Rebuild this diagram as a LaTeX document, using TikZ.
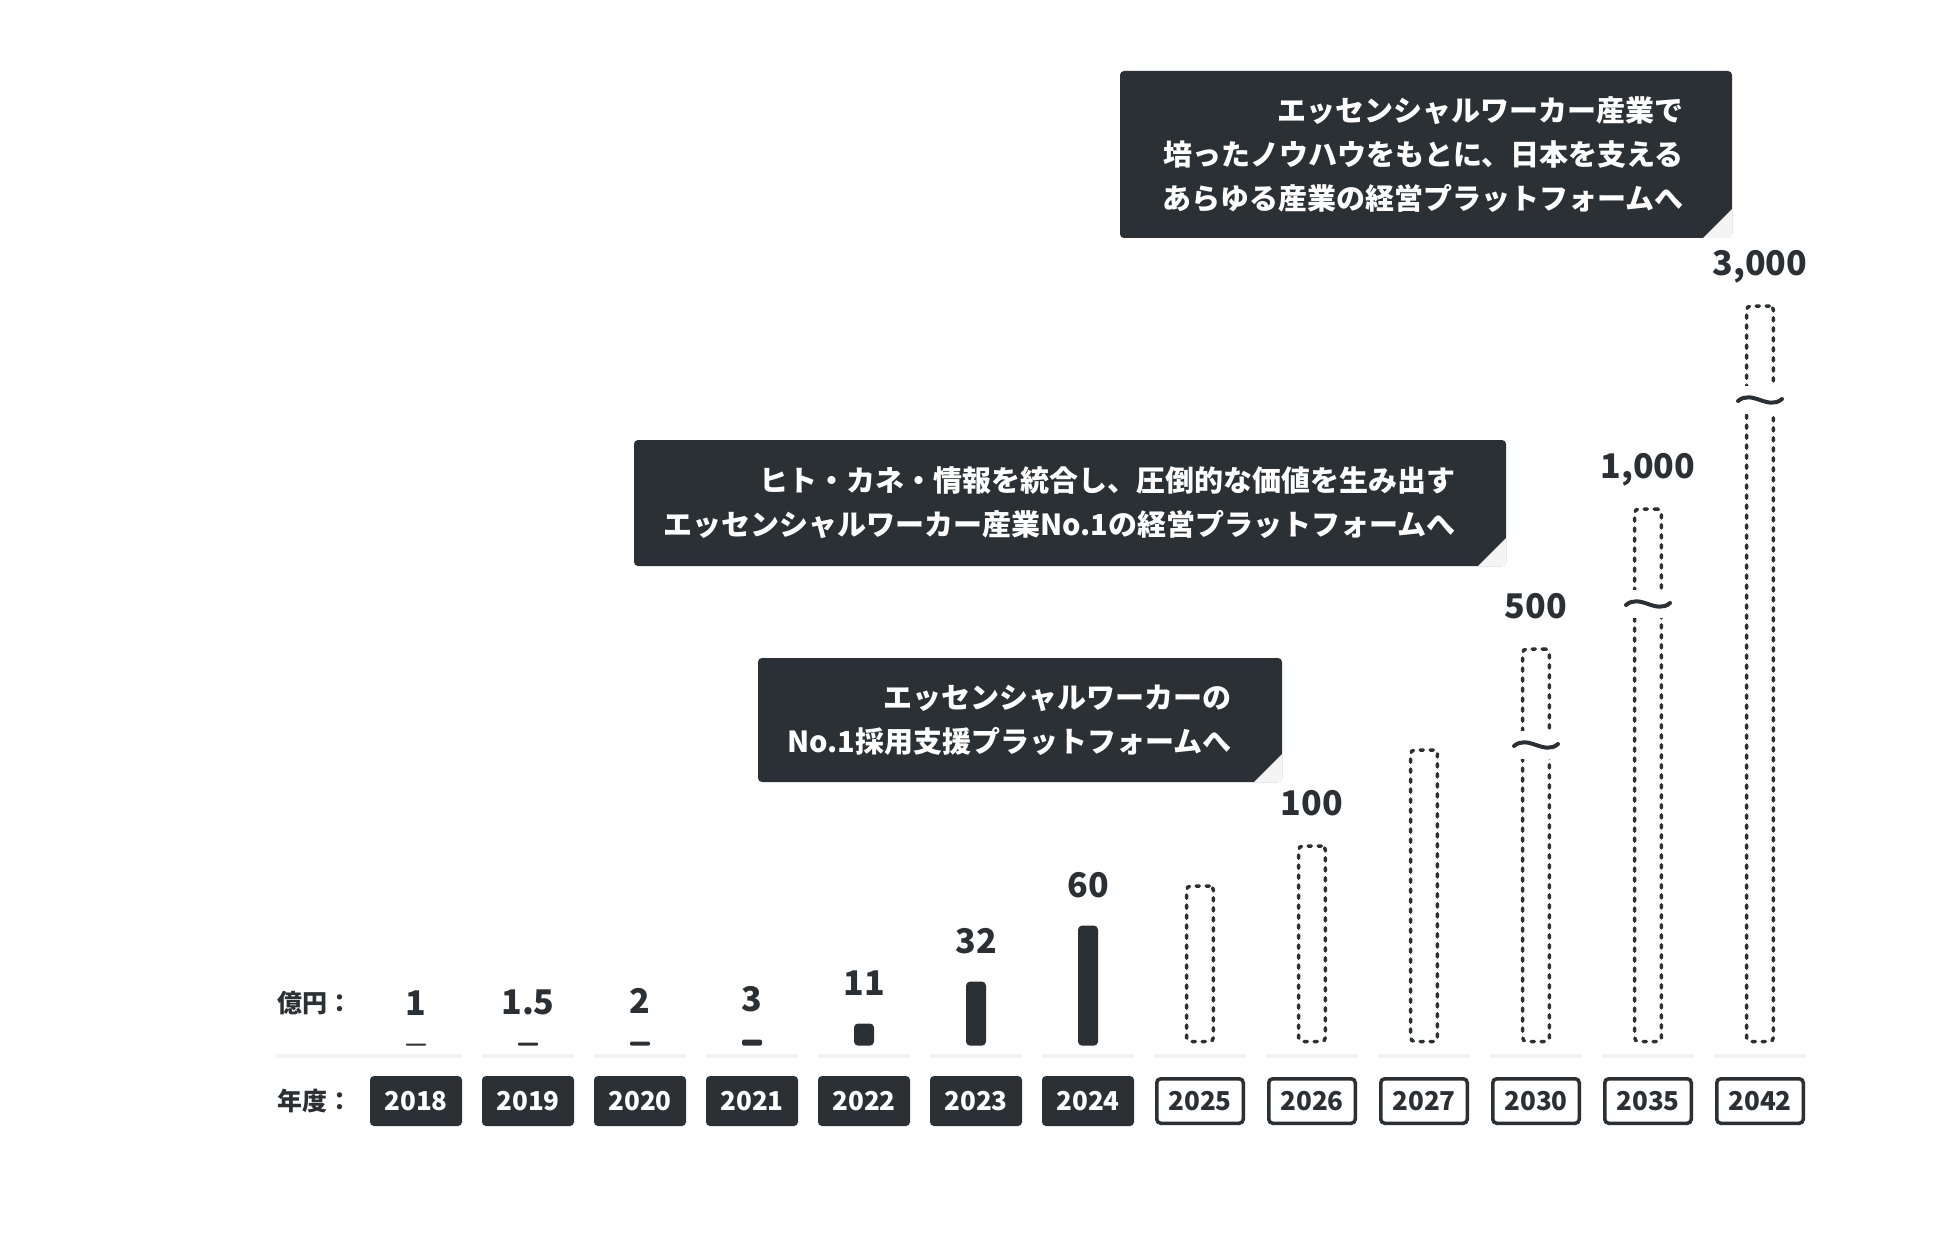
\documentclass[tikz,border=0pt]{standalone}
\usepackage{fontspec}
\setmainfont{Noto Sans CJK JP}
\usetikzlibrary{positioning,calc}

\definecolor{ink}{HTML}{2A3033}
\definecolor{fold}{HTML}{F4F4F4}
\definecolor{strip}{HTML}{F2F2F2}

\tikzset{
  yearbox/.style = {fill=ink, text=white, rounded corners=2pt, inner sep=0pt,
    minimum width=46pt, minimum height=25pt, font=\fontsize{13}{13}\selectfont\bfseries},
  planbox/.style = {draw=ink, line width=1.75pt, fill=white, text=ink, rounded corners=2pt, inner sep=0pt,
    minimum width=43.25pt, minimum height=22.25pt, font=\fontsize{13}{13}\selectfont\bfseries},
  realbar/.style = {fill=ink, inner sep=0pt, minimum width=10pt, anchor=south},
  planbar/.style = {draw=ink, line width=1.75pt, dash pattern=on 1.6pt off 3.4pt, line cap=round,
    rounded corners=2pt, inner sep=0pt, minimum width=13.4pt, anchor=south},
  amount/.style = {text=ink, inner sep=0pt, text depth=0pt, font=\fontsize{17}{17}\selectfont\bfseries},
  axislabel/.style = {text=ink, inner sep=0pt, anchor=west, font=\fontsize{12.5}{12.5}\selectfont\bfseries},
  message/.style = {text=white, align=right, inner sep=0pt, anchor=east, font=\fontsize{14.5}{22}\selectfont\bfseries},
  bubble/.style = {fill=ink, rounded corners=2pt},
  breakmark/.style = {draw=ink, line width=2pt, line cap=round},
}

\begin{document}
\begin{tikzpicture}[x=0.5pt, y=-0.5pt]
  \useasboundingbox (0,0) rectangle (1948,1246);

  % axis captions
  \node[axislabel] (unitlabel) at (277,1003) {億円：};
  \node[axislabel] (yearlabel) at (277,1101) {年度：};
  \fill[strip] (276,1054) rectangle (370,1058);

  % results
  \foreach \yr/\h/\val [count=\i from 0] in {2018/2/1, 2019/3/1.5, 2020/4/2, 2021/6/3,
      2022/22/11, 2023/64/32, 2024/120/60}{
    \pgfmathsetmacro\cx{416+112*\i}
    \pgfmathsetmacro\rc{min(2,\h/6)}
    \fill[strip] (\cx-46,1054) rectangle (\cx+46,1058);
    \node[realbar, minimum height=\h*0.5pt, rounded corners=\rc pt] (bar\yr) at (\cx,1046) {};
    \node[amount, above=13.5pt of bar\yr] (amt\yr) {\val};
    \node[yearbox] (yr\yr) at (\cx,1101) {\yr};
  }

  % plan
  \foreach \yr/\h/\val/\cut [count=\i from 7] in {2025/159//0, 2026/199/100/0, 2027/295//0,
      2030/396/500/745, 2035/536/{1,000}/604, 2042/739/{3,000}/400}{
    \pgfmathsetmacro\cx{416+112*\i}
    \fill[strip] (\cx-46,1054) rectangle (\cx+46,1058);
    \node[planbar, minimum height=\h*0.5pt-1.75pt] (bar\yr) at (\cx,1043.25) {};
    \ifx\val\empty\else
      \node[amount, above=14.3pt of bar\yr] (amt\yr) {\val};
    \fi
    \ifnum\cut>0
      \fill[white] (\cx-20,\cut-14) rectangle (\cx+20,\cut+14);
      \draw[breakmark] (\cx-22,\cut+1) .. controls (\cx-8,\cut-11) and (\cx+8,\cut+11) .. (\cx+22,\cut-1);
    \fi
    \node[planbox] (yr\yr) at (\cx,1101) {\yr};
  }

  % messages
  \fill[bubble] (1120,71) rectangle (1732,238);
  \fill[fold] (1732,209) -- (1732,238) -- (1703,238) -- cycle;
  \node[message] (msg2042) at (1684,154.5)
    {エッセンシャルワーカー産業で\\培ったノウハウをもとに、日本を支える\\あらゆる産業の経営プラットフォームへ};

  \fill[bubble] (634,440) rectangle (1506,566);
  \fill[fold] (1506,538) -- (1506,566) -- (1478,566) -- cycle;
  \node[message] (msg2030) at (1456,503)
    {ヒト・カネ・情報を統合し、圧倒的な価値を生み出す\\エッセンシャルワーカー産業No.1の経営プラットフォームへ};

  \fill[bubble] (758,658) rectangle (1282,782);
  \fill[fold] (1282,754) -- (1282,782) -- (1254,782) -- cycle;
  \node[message] (msg2025) at (1232,720)
    {エッセンシャルワーカーの\\No.1採用支援プラットフォームへ};
\end{tikzpicture}
\end{document}
